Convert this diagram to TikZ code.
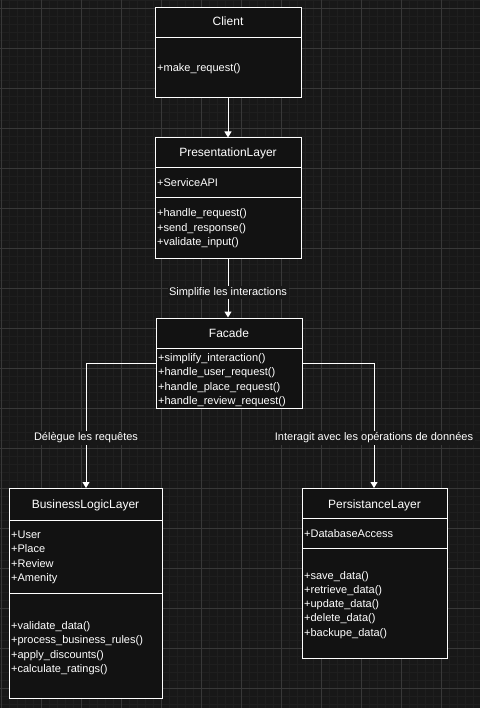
\documentclass[tikz,border=0pt]{standalone}
\usepackage{fontspec}
\setmainfont{Liberation Sans}
\usetikzlibrary{arrows.meta}
\definecolor{bgc}{HTML}{181818}
\definecolor{minorc}{HTML}{1F1F1F}
\definecolor{majorc}{HTML}{383838}
\definecolor{boxc}{HTML}{121212}
\tikzset{
  umlbox/.style={draw=white, fill=boxc, line width=1pt, inner sep=0pt},
  divline/.style={draw=white, line width=1pt},
  title/.style={anchor=base, inner sep=0pt, text=white, font=\fontsize{12}{14}\selectfont},
  mem/.style={anchor=base west, inner sep=0pt, text=white, font=\fontsize{11}{13}\selectfont},
  conn/.style={draw=white, line width=1pt, -{Triangle[width=7pt,length=6pt]}},
  lbl/.style={fill=bgc, inner sep=1.5pt, text=white, font=\fontsize{11}{13}\selectfont}
}
\begin{document}
\begin{tikzpicture}[x=1pt,y=-1pt]
\useasboundingbox (0,0) rectangle (480,708);
\fill[bgc] (0,0) rectangle (480,708);
% minor grid
\foreach \i in {0,...,60} {\draw[minorc, line width=0.8pt] ({1+8*\i},0) -- ({1+8*\i},708);}
\foreach \j in {0,...,88} {\draw[minorc, line width=0.8pt] (0,{8*\j}) -- (480,{8*\j});}
% major grid
\foreach \i in {0,...,12} {\draw[majorc, line width=0.8pt] ({1+40*\i},0) -- ({1+40*\i},708);}
\foreach \j in {0,...,17} {\draw[majorc, line width=0.8pt] (0,{8+40*\j}) -- (480,{8+40*\j});}

% Client
\node[umlbox, minimum width=146pt, minimum height=90pt] (client) at (228,53) {};
\draw[divline] (155,38) -- (301,38);
\node[title] (clientT) at (228,26) {Client};
\node[mem] (clientM1) at (157,72) {+make\_request()};

% PresentationLayer
\node[umlbox, minimum width=146pt, minimum height=120pt] (pres) at (228,198) {};
\draw[divline] (155,168) -- (301,168);
\draw[divline] (155,198) -- (301,198);
\node[title] (presT) at (228,157) {PresentationLayer};
\node[mem] (presA1) at (157,187) {+ServiceAPI};
\node[mem] (presM1) at (157,217) {+handle\_request()};
\node[mem] (presM2) at (157,231.5) {+send\_response()};
\node[mem] (presM3) at (157,246) {+validate\_input()};

% Facade
\node[umlbox, minimum width=146pt, minimum height=90pt] (facade) at (229,363) {};
\draw[divline] (156,348) -- (302,348);
\node[title] (facT) at (229,337) {Facade};
\node[mem] (facM1) at (158,361) {+simplify\_interaction()};
\node[mem] (facM2) at (158,375.5) {+handle\_user\_request()};
\node[mem] (facM3) at (158,390) {+handle\_place\_request()};
\node[mem] (facM4) at (158,404) {+handle\_review\_request()};

% BusinessLogicLayer
\node[umlbox, minimum width=153pt, minimum height=210pt] (biz) at (85.5,593) {};
\draw[divline] (9,520) -- (162,520);
\draw[divline] (9,593) -- (162,593);
\node[title] (bizT) at (85.5,508) {BusinessLogicLayer};
\node[mem] (bizA1) at (11,538) {+User};
\node[mem] (bizA2) at (11,552.5) {+Place};
\node[mem] (bizA3) at (11,567) {+Review};
\node[mem] (bizA4) at (11,581.5) {+Amenity};
\node[mem] (bizM1) at (11,629) {+validate\_data()};
\node[mem] (bizM2) at (11,643) {+process\_business\_rules()};
\node[mem] (bizM3) at (11,658) {+apply\_discounts()};
\node[mem] (bizM4) at (11,672) {+calculate\_ratings()};

% PersistanceLayer
\node[umlbox, minimum width=145pt, minimum height=170pt] (pers) at (374.5,573) {};
\draw[divline] (302,518) -- (447,518);
\draw[divline] (302,548) -- (447,548);
\node[title] (persT) at (374.5,508) {PersistanceLayer};
\node[mem] (persA1) at (304,537) {+DatabaseAccess};
\node[mem] (persM1) at (304,579) {+save\_data()};
\node[mem] (persM2) at (304,593) {+retrieve\_data()};
\node[mem] (persM3) at (304,607.5) {+update\_data()};
\node[mem] (persM4) at (304,621.5) {+delete\_data()};
\node[mem] (persM5) at (304,636) {+backupe\_data()};

% connectors
\draw[conn] (client.south) -- (pres.north);
\draw[conn] (pres.south) -- (pres.south |- facade.north) node[lbl, pos=0.58] (l1) {Simplifie les interactions};
\draw[conn] (facade.west) -| (86,488) node[lbl, pos=0.8] (l2) {Délègue les requêtes};
\draw[conn] (facade.east) -| (374,488) node[lbl, pos=0.8] (l3) {Interagit avec les opérations de données};
\end{tikzpicture}
\end{document}
